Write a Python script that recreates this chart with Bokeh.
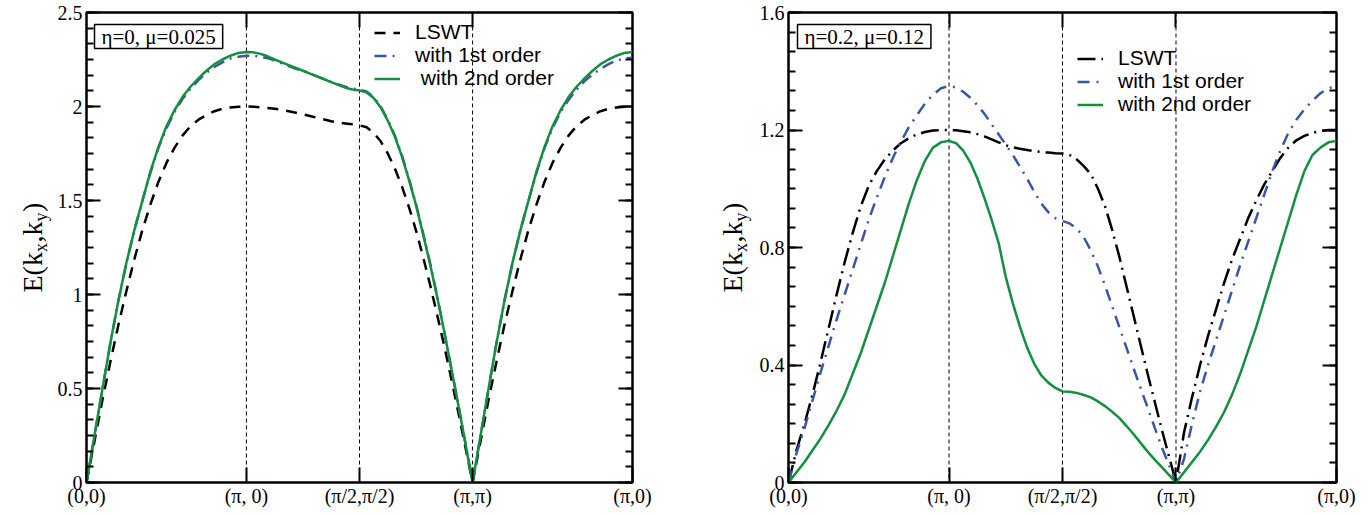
import numpy as np
from bokeh.plotting import figure
from bokeh.models import (LinearAxis, FixedTicker, Range1d, Span, Label,
                          Legend, LegendItem, CustomJSTickFormatter)
from bokeh.layouts import row
from bokeh.embed import file_html
from bokeh.resources import INLINE
from bokeh.core.properties import value

# ---------------- path through the Brillouin zone ----------------
K_LABELS = ["(0,0)", "(π, 0)", "(π/2,π/2)", "(π,π)", "(π,0)"]
SEG_LEN = [np.pi, np.pi / np.sqrt(2), np.pi / np.sqrt(2), np.pi]
K_POS = list(np.concatenate([[0.0], np.cumsum(SEG_LEN)]))

# sample fractions along each segment
FR_EDGE = [i / 20 for i in range(21)]   # (0,0)->(pi,0)  and  (pi,pi)->(pi,0)
FR_MID = [i / 16 for i in range(17)]    # (pi,0)->(pi/2,pi/2)  and  (pi/2,pi/2)->(pi,pi)

# ---------------- left panel: eta=0, mu=0.025 ----------------
L_LSWT_GX = [0, .22, .44, .645, .84, 1.02, 1.19, 1.345, 1.48, 1.60, 1.70, 1.78, 1.845,
             1.895, 1.93, 1.955, 1.975, 1.988, 1.995, 1.999, 2.0]
L_LSWT_XS = [2.0, 1.999, 1.996, 1.992, 1.988, 1.982, 1.975, 1.967, 1.958, 1.949, 1.94,
             1.931, 1.922, 1.915, 1.91, 1.905, 1.90]
L_LSWT_SM = [1.9, 1.89, 1.86, 1.815, 1.75, 1.67, 1.575, 1.465, 1.34, 1.2, 1.05, .89,
             .725, .55, .37, .185, 0]
L_LSWT_MX = [0, .22, .44, .645, .84, 1.02, 1.19, 1.345, 1.48, 1.60, 1.70, 1.78, 1.845,
             1.895, 1.93, 1.955, 1.975, 1.988, 1.995, 1.999, 2.0]

L_FIRST_GX = [0, .25, .5, .745, .97, 1.17, 1.345, 1.50, 1.65, 1.78, 1.885, 1.97, 2.04,
              2.095, 2.14, 2.18, 2.21, 2.235, 2.255, 2.265, 2.27]
L_FIRST_XS = [2.27, 2.269, 2.265, 2.257, 2.245, 2.23, 2.215, 2.2, 2.19, 2.175, 2.16,
              2.145, 2.13, 2.117, 2.105, 2.096, 2.09]
L_FIRST_SM = [2.09, 2.08, 2.05, 2.0, 1.93, 1.845, 1.74, 1.615, 1.48, 1.325, 1.165, .99,
              .80, .605, .41, .205, 0]
L_FIRST_MX = [0, .25, .5, .745, .97, 1.17, 1.345, 1.50, 1.65, 1.78, 1.885, 1.97, 2.035,
              2.09, 2.135, 2.17, 2.2, 2.225, 2.245, 2.255, 2.26]

L_SECOND_GX = [0, .25, .5, .745, .97, 1.17, 1.345, 1.50, 1.655, 1.785, 1.895, 1.98, 2.05,
               2.105, 2.15, 2.19, 2.225, 2.25, 2.27, 2.285, 2.29]
L_SECOND_XS = [2.29, 2.288, 2.28, 2.267, 2.25, 2.235, 2.22, 2.205, 2.19, 2.175, 2.16,
               2.145, 2.13, 2.115, 2.10, 2.09, 2.085]
L_SECOND_SM = [2.085, 2.075, 2.045, 1.995, 1.925, 1.84, 1.735, 1.61, 1.475, 1.32, 1.16,
               .985, .80, .605, .41, .205, 0]
L_SECOND_MX = [0, .25, .5, .745, .97, 1.17, 1.345, 1.50, 1.655, 1.785, 1.895, 1.98, 2.05,
               2.105, 2.15, 2.19, 2.225, 2.25, 2.27, 2.285, 2.29]

# ---------------- right panel: eta=0.2, mu=0.12 ----------------
R_LSWT_GX = [0, .11, .2, .3, .41, .525, .64, .75, .85, .94, 1.01, 1.06, 1.10, 1.13,
             1.155, 1.172, 1.185, 1.193, 1.198, 1.2, 1.2]
R_LSWT_XS = [1.2, 1.199, 1.196, 1.192, 1.186, 1.178, 1.168, 1.158, 1.148, 1.141, 1.136,
             1.132, 1.128, 1.125, 1.123, 1.121, 1.12]
R_LSWT_SM = [1.12, 1.115, 1.10, 1.077, 1.05, 1.0, .94, .86, .77, .67, .57, .47, .37,
             .275, .18, .09, 0]
R_LSWT_MX = [0, .17, .29, .4, .5, .59, .68, .76, .83, .9, .96, 1.015, 1.06, 1.105, 1.14,
             1.165, 1.18, 1.19, 1.197, 1.2, 1.2]

R_FIRST_GX = [0, .1, .185, .28, .375, .465, .555, .64, .725, .81, .895, .97, 1.04, 1.105,
              1.16, 1.21, 1.25, 1.29, 1.32, 1.342, 1.35]
R_FIRST_XS = [1.35, 1.345, 1.33, 1.31, 1.285, 1.255, 1.22, 1.185, 1.15, 1.115, 1.075,
              1.035, .99, .95, .92, .90, .89]
R_FIRST_SM = [.89, .882, .865, .835, .79, .735, .67, .60, .53, .46, .39, .322, .255,
              .187, .12, .06, 0]
R_FIRST_MX = [0, .08, .2, .31, .40, .485, .57, .655, .74, .82, .9, .98, 1.06, 1.13, 1.19,
              1.235, 1.27, 1.3, 1.325, 1.342, 1.35]

R_SECOND_GX = [0, .035, .07, .11, .15, .195, .245, .30, .37, .44, .52, .60, .68, .77,
               .86, .95, 1.03, 1.095, 1.14, 1.158, 1.163]
R_SECOND_XS = [1.163, 1.155, 1.13, 1.09, 1.035, .968, .895, .815, .70, .61, .53, .46,
               .405, .365, .34, .322, .31]
R_SECOND_SM = [.31, .309, .305, .298, .29, .276, .26, .241, .22, .193, .165, .135, .105,
               .078, .052, .026, 0]
R_SECOND_MX = [0, .035, .07, .105, .145, .19, .24, .30, .37, .45, .53, .62, .71, .80, .89,
               .98, 1.06, 1.115, 1.14, 1.158, 1.163]

L_YTICKS = [0, 0.5, 1.0, 1.5, 2.0, 2.5]
L_YLABELS = ["0", "0.5", "1", "1.5", "2", "2.5"]
R_YTICKS = [0, 0.4, 0.8, 1.2, 1.6]
R_YLABELS = ["0", "0.4", "0.8", "1.2", "1.6"]

L_NAMES = ["LSWT", "with 1st order", " with 2nd order"]
R_NAMES = ["LSWT", "with 1st order", "with 2nd order"]
L_TITLE = "η=0, μ=0.025"
R_TITLE = "η=0.2, μ=0.12"

BLACK, BLUE, GREEN = "#000000", "#3a55a8", "#12903f"
SERIF = "Liberation Serif"
SANS = "Liberation Sans"
FRAME_H = 470
TOP, BOTTOM = 12, 24

LABEL_JS = """
for (let i = 0; i < pos.length; i++) {
  if (Math.abs(pos[i] - tick) < 1e-6) { return labs[i]; }
}
return "";
"""


def path(segs):
    xs, ys = [], []
    fracs = [FR_EDGE, FR_MID, FR_MID, FR_EDGE]
    for i, (vals, fr) in enumerate(zip(segs, fracs)):
        x = K_POS[i] + np.array(fr) * SEG_LEN[i]
        v = list(vals)
        if i > 0:
            x, v = x[1:], v[1:]
        xs.extend(list(x))
        ys.extend(v)
    return xs, ys


def ylabel_panel(width, baseline):
    """Narrow figure holding the rotated axis title E(k_x,k_y)."""
    p = figure(frame_width=width, frame_height=FRAME_H,
               x_range=Range1d(0, width), y_range=Range1d(0, FRAME_H),
               output_backend="svg", toolbar_location=None,
               x_axis_location=None, y_axis_location=None,
               min_border_left=0, min_border_right=0,
               min_border_top=TOP, min_border_bottom=BOTTOM)
    p.outline_line_color = None
    p.background_fill_color = "white"
    p.border_fill_color = "white"
    p.xgrid.visible = False
    p.ygrid.visible = False
    start = FRAME_H / 2 - 45
    pieces = [("E(k", 28, 0.0, 0), ("x", 18, 40.5, 8), (",k", 28, 50.0, 0),
              ("y", 18, 71.0, 8), (")", 28, 80.5, 0)]
    for txt, size, along, shift in pieces:
        p.text(x=[baseline + shift], y=[start + along], text=[txt], angle=np.pi / 2,
               text_font=value(SERIF), text_font_size=value(f"{size}px"),
               text_color="black", text_align="left", text_baseline="alphabetic")
    return p


def make_panel(title, ymax, yticks, ylabels, nsub, curves, styles, names,
               legend_x, legend_ys, frame_w, bleft, bright, box_dx):
    p = figure(frame_width=frame_w, frame_height=FRAME_H,
               x_range=Range1d(0, K_POS[-1]), y_range=Range1d(0, ymax),
               output_backend="svg", toolbar_location=None,
               x_axis_location=None, y_axis_location=None,
               min_border_left=bleft, min_border_right=bright,
               min_border_top=TOP, min_border_bottom=BOTTOM)
    p.outline_line_color = "black"
    p.outline_line_width = 2.5
    p.background_fill_color = "white"
    p.border_fill_color = "white"
    p.xgrid.visible = False
    p.ygrid.visible = False

    step = (yticks[1] - yticks[0]) / nsub
    minor = [k * step for k in range(int(round(ymax / step)) + 1)]

    def yaxis(with_labels):
        ax = LinearAxis(ticker=FixedTicker(ticks=yticks, minor_ticks=minor),
                        formatter=CustomJSTickFormatter(
                            args=dict(pos=yticks, labs=ylabels if with_labels else [""] * len(yticks)),
                            code=LABEL_JS))
        ax.axis_line_color = None
        ax.major_tick_in = 14
        ax.major_tick_out = 0
        ax.minor_tick_in = 7
        ax.minor_tick_out = 0
        ax.major_tick_line_width = 2
        ax.minor_tick_line_width = 2
        ax.major_label_text_font = SERIF
        ax.major_label_text_font_size = "20px"
        ax.major_label_text_color = "black"
        ax.major_label_standoff = 4
        return ax

    def xaxis(ticks, with_labels):
        ax = LinearAxis(ticker=FixedTicker(ticks=ticks, minor_ticks=[]),
                        formatter=CustomJSTickFormatter(
                            args=dict(pos=K_POS, labs=K_LABELS if with_labels else [""] * 5),
                            code=LABEL_JS))
        ax.axis_line_color = None
        ax.major_tick_in = 15
        ax.major_tick_out = 0
        ax.major_tick_line_width = 2
        ax.major_label_text_font = SERIF
        ax.major_label_text_font_size = "20px"
        ax.major_label_text_color = "black"
        ax.major_label_standoff = 2
        return ax

    p.add_layout(yaxis(True), "left")
    p.add_layout(yaxis(False), "right")
    p.add_layout(xaxis(K_POS, True), "below")
    p.add_layout(xaxis(K_POS[1:-1], False), "above")

    for pos in K_POS[1:4]:
        p.add_layout(Span(location=pos, dimension="height", line_color="black",
                          line_width=1, line_dash="4 3", level="underlay"))

    for segs, (color, dash), name, ly in zip(curves, styles, names, legend_ys):
        xs, ys = path(segs)
        r = p.line(xs, ys, line_color=color, line_width=2.5, line_dash=dash)
        leg = Legend(items=[LegendItem(label=name, renderers=[r])],
                     location=(legend_x, ly), padding=0, margin=0, spacing=0,
                     glyph_width=26, glyph_height=21, label_height=21, label_standoff=15,
                     border_line_color=None, background_fill_alpha=0,
                     label_text_font=SANS, label_text_font_size="21px",
                     label_text_color="black")
        p.add_layout(leg)

    # parameter box
    p.add_layout(Label(x=0, y=ymax, x_offset=box_dx, y_offset=-12, text=title,
                       text_font=SERIF, text_font_size="21px", text_color="black",
                       text_align="left", text_baseline="top",
                       border_line_color="black", border_line_width=1.5,
                       background_fill_color="white", padding=(7, 0)))
    return p


lab1 = ylabel_panel(52, 32)
p1 = make_panel(L_TITLE, 2.5, L_YTICKS, L_YLABELS, 6,
                [[L_LSWT_GX, L_LSWT_XS, L_LSWT_SM, L_LSWT_MX],
                 [L_FIRST_GX, L_FIRST_XS, L_FIRST_SM, L_FIRST_MX],
                 [L_SECOND_GX, L_SECOND_XS, L_SECOND_SM, L_SECOND_MX]],
                [(BLACK, "11 8"), (BLUE, "12 6 2 6"), (GREEN, "solid")],
                L_NAMES, 288, [438, 415, 392], 546, 34, 28, 8)

lab2 = ylabel_panel(92, 72)
p2 = make_panel(R_TITLE, 1.6, R_YTICKS, R_YLABELS, 6,
                [[R_LSWT_GX, R_LSWT_XS, R_LSWT_SM, R_LSWT_MX],
                 [R_FIRST_GX, R_FIRST_XS, R_FIRST_SM, R_FIRST_MX],
                 [R_SECOND_GX, R_SECOND_XS, R_SECOND_SM, R_SECOND_MX]],
                [(BLACK, "18 6 2 6"), (BLUE, "12 7 2 7"), (GREEN, "solid")],
                R_NAMES, 289, [412, 389, 366], 548, 36, 22, 9)

layout = row(lab1, p1, lab2, p2)
open("out.html", "w").write(file_html(layout, INLINE))
